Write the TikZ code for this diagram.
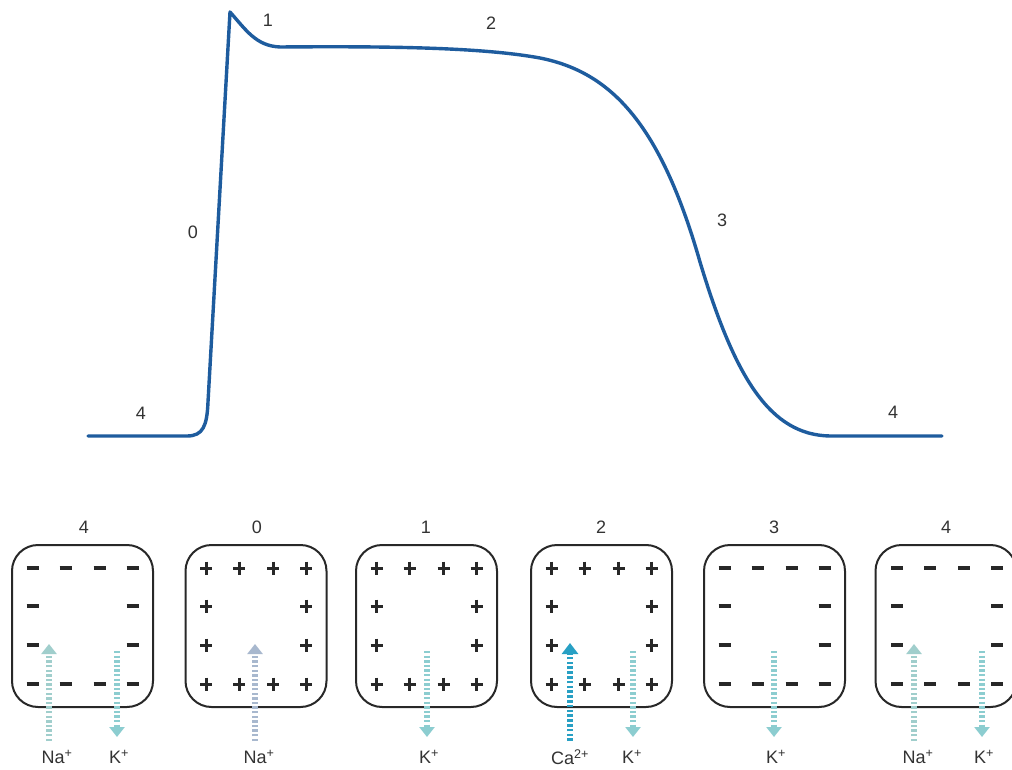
\documentclass[tikz,border=0pt]{standalone}
\usepackage{fontspec}
\setmainfont{Liberation Sans}
\usetikzlibrary{arrows.meta}
\definecolor{apblue}{RGB}{30,92,158}
\definecolor{boxline}{RGB}{40,40,40}
\definecolor{kcol}{RGB}{140,205,208}
\definecolor{nacol}{RGB}{160,206,204}
\definecolor{na2col}{RGB}{168,184,206}
\definecolor{cacol}{RGB}{40,160,196}
\tikzset{
  apcurve/.style={draw=apblue,line width=3.4pt,line cap=round,line join=round},
  lbl/.style={font=\fontsize{18}{20}\selectfont,text=black!80,inner sep=0pt},
  cellbox/.style={draw=boxline,line width=2pt,rounded corners=26pt,minimum width=141pt,minimum height=162pt,inner sep=0pt},
  ionarrow/.style={line width=5.5pt,dash pattern=on 2.4pt off 2.2pt,-{Triangle[width=15pt,length=10pt]}},
  caarrow/.style={line width=6.5pt,dash pattern=on 2.6pt off 2.2pt,-{Triangle[width=16pt,length=11pt]}},
  minus/.style={line width=3.5pt,boxline},
  plus/.style={line width=3pt,boxline},
}
\newcommand{\chargeminus}[2]{\draw[minus] (#1-6,#2) -- (#1+6,#2);}
\newcommand{\chargeplus}[2]{\draw[plus] (#1-6,#2) -- (#1+6,#2) (#1,#2-6.5) -- (#1,#2+6.5);}
\newcommand{\cellcharges}[2]{%
  \foreach \dx in {-50,-17,17,50} {#2{#1+\dx}{568} #2{#1+\dx}{684}}
  \foreach \dx in {-50,50} {#2{#1+\dx}{606} #2{#1+\dx}{645}}
}
\begin{document}
\begin{tikzpicture}[x=1pt,y=-1pt]
\useasboundingbox (0,0) rectangle (1012,770);
\fill[white] (0,0) rectangle (1012,770);

% action potential curve
\draw[apcurve] (88,436) -- (187,436) .. controls (203,436) and (207,426) .. (208,402)
  -- (230,12) .. controls (246,30) and (256,46) .. (280,47)
  .. controls (400,46) and (485,48) .. (540,58)
  .. controls (610,72) and (660,122) .. (700,262)
  .. controls (735,378) and (770,435) .. (830,436) -- (942,436);

\node[lbl] (p1) at (268,20) {1};
\node[lbl] (p2) at (491,23) {2};
\node[lbl] (p0) at (193,232) {0};
\node[lbl] (p3) at (722,220) {3};
\node[lbl] (p4a) at (141,413) {4};
\node[lbl] (p4b) at (893,412) {4};

% cells
\node[cellbox] (c1) at (82.5,626) {};
\node[cellbox] (c2) at (256,626) {};
\node[cellbox] (c3) at (426.5,626) {};
\node[cellbox] (c4) at (601.5,626) {};
\node[cellbox] (c5) at (774.5,626) {};
\node[cellbox] (c6) at (946,626) {};

\node[lbl] (t1) at (84,527) {4};
\node[lbl] (t2) at (257,527) {0};
\node[lbl] (t3) at (426,527) {1};
\node[lbl] (t4) at (601,527) {2};
\node[lbl] (t5) at (774,527) {3};
\node[lbl] (t6) at (946,527) {4};

\cellcharges{82.5}{\chargeminus}
\cellcharges{256}{\chargeplus}
\cellcharges{426.5}{\chargeplus}
\cellcharges{601.5}{\chargeplus}
\cellcharges{774.5}{\chargeminus}
\cellcharges{947}{\chargeminus}

% ion labels
\node[lbl] (na1) at (57,757) {Na\textsuperscript{+}};
\node[lbl] (k1) at (119,757) {K\textsuperscript{+}};
\node[lbl] (na2) at (259,757) {Na\textsuperscript{+}};
\node[lbl] (k3) at (429,757) {K\textsuperscript{+}};
\node[lbl] (ca4) at (570,757) {Ca\textsuperscript{2+}};
\node[lbl] (k4) at (632,757) {K\textsuperscript{+}};
\node[lbl] (k5) at (776,757) {K\textsuperscript{+}};
\node[lbl] (na6) at (918,757) {Na\textsuperscript{+}};
\node[lbl] (k6) at (984,757) {K\textsuperscript{+}};

% arrow end coordinates
\coordinate (na1b) at (49,741); \coordinate (na1t) at (49,644);
\coordinate (k1t) at (117,651); \coordinate (k1b) at (117,737);
\coordinate (na2b) at (255,741); \coordinate (na2t) at (255,644);
\coordinate (k3t) at (427,651); \coordinate (k3b) at (427,737);
\coordinate (ca4b) at (570,741); \coordinate (ca4t) at (570,643);
\coordinate (k4t) at (633,651); \coordinate (k4b) at (633,737);
\coordinate (k5t) at (774,651); \coordinate (k5b) at (774,737);
\coordinate (na6b) at (914,741); \coordinate (na6t) at (914,644);
\coordinate (k6t) at (982,651); \coordinate (k6b) at (982,737);

\draw[ionarrow,nacol] (na1b) -- (na1t);
\draw[ionarrow,kcol] (k1t) -- (k1b);
\draw[ionarrow,na2col] (na2b) -- (na2t);
\draw[ionarrow,kcol] (k3t) -- (k3b);
\draw[caarrow,cacol] (ca4b) -- (ca4t);
\draw[ionarrow,kcol] (k4t) -- (k4b);
\draw[ionarrow,kcol] (k5t) -- (k5b);
\draw[ionarrow,nacol] (na6b) -- (na6t);
\draw[ionarrow,kcol] (k6t) -- (k6b);
\end{tikzpicture}
\end{document}
